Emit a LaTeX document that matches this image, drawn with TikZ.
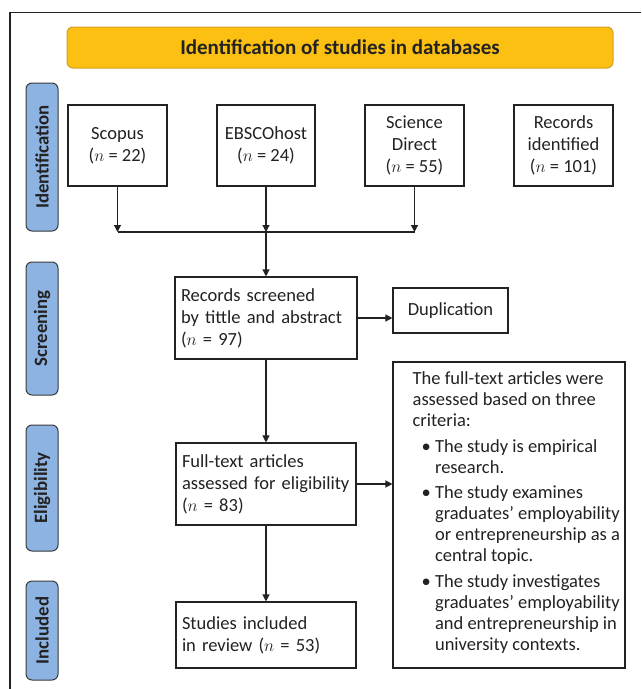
\documentclass[tikz,border=0pt]{standalone}
\usepackage{fontspec}
\setmainfont{Carlito}
\usetikzlibrary{arrows.meta,calc}

\definecolor{bannerfill}{HTML}{FBC012}
\definecolor{bannerline}{HTML}{D49F22}
\definecolor{phasefill}{HTML}{8DB3E2}
\definecolor{phaseline}{HTML}{3A3A3A}
\definecolor{ink}{HTML}{222222}

\newcommand{\nn}{$n$}

\tikzset{
  box/.style={draw=ink, line width=1.1pt, fill=white, inner sep=0pt, text=ink,
    font=\fontsize{18.5}{22}\selectfont},
  cbox/.style={box, align=center},
  lbox/.style={box, align=left, inner xsep=6pt},
  phase/.style={draw=phaseline, fill=phasefill, line width=1pt, rounded corners=6pt,
    rotate=90, inner sep=0pt, text=ink, font=\bfseries\fontsize{18.8}{22}\selectfont},
  banner/.style={draw=bannerline, fill=bannerfill, line width=1pt, rounded corners=6pt,
    inner sep=0pt, text=ink, font=\bfseries\fontsize{21}{24}\selectfont},
  flow/.style={draw=ink, line width=1.2pt, -{Triangle[length=7pt,width=7pt]}},
  link/.style={draw=ink, line width=1.2pt},
}

\begin{document}
\begin{tikzpicture}[x=1pt, y=-1pt]
\useasboundingbox (0,0) rectangle (641,689);

% open frame
\coordinate (fbl) at (10,689);
\coordinate (ftl) at (10,12.5);
\coordinate (ftr) at (641,12.5);
\draw[ink, line width=1.1pt] (fbl) -- (ftl) -- (ftr);

% heading banner
\node[banner, minimum width=546pt, minimum height=41pt] (head) at (340,47.5)
  {Identification of studies in databases};

% phase labels
\node[phase, minimum width=148pt, minimum height=32pt] (pid) at (42,157) {Identification};
\node[phase, minimum width=133pt, minimum height=32pt] (psc) at (42,328.5) {Screening};
\node[phase, minimum width=126pt, minimum height=32pt] (pel) at (42,488) {Eligibility};
\node[phase, minimum width=99pt, minimum height=32pt] (pin) at (42,630.5) {Included};

% identification sources
\node[cbox, minimum width=99pt, minimum height=81pt] (scopus) at (117.5,145.5)
  {Scopus\\(\nn{} = 22)};
\node[cbox, minimum width=98pt, minimum height=81pt] (ebsco) at (266,145.5)
  {EBSCOhost\\(\nn{} = 24)};
\node[cbox, minimum width=99pt, minimum height=81pt] (sd) at (414.5,145.5)
  {Science\\Direct\\(\nn{} = 55)};
\node[cbox, minimum width=99pt, minimum height=81pt] (recid) at (563.5,145.5)
  {Records\\identified\\(\nn{} = 101)};

% screening
\node[lbox, text width=170pt, minimum height=82pt] (screen) at (266,318)
  {Records screened\\by tittle and abstract\\(\nn{} = 97)};
\node[cbox, minimum width=115pt, minimum height=45pt] (dup) at (450.5,310.5)
  {Duplication};

% eligibility
\node[lbox, text width=168pt, minimum height=82pt] (full) at (266,484)
  {Full-text articles\\assessed for eligibility\\(\nn{} = 83)};
\node[box, minimum width=232pt, minimum height=306pt] (crit) at (509,515) {};
\node[anchor=north west, inner sep=0pt, align=left, text=ink,
      font=\fontsize{18.5}{21}\selectfont] (crittext)
  at ($(crit.north west)+(20,10)$)
  {The full-text articles were\\
   assessed based on three\\
   criteria:\\[4.5pt]
   \hspace*{9pt}\textbullet\ The study is empirical\\
   \hspace*{9pt}\phantom{\textbullet\ }research.\\[4.5pt]
   \hspace*{9pt}\textbullet\ The study examines\\
   \hspace*{9pt}\phantom{\textbullet\ }graduates’ employability\\
   \hspace*{9pt}\phantom{\textbullet\ }or entrepreneurship as a\\
   \hspace*{9pt}\phantom{\textbullet\ }central topic.\\[4.5pt]
   \hspace*{9pt}\textbullet\ The study investigates\\
   \hspace*{9pt}\phantom{\textbullet\ }graduates' employability\\
   \hspace*{9pt}\phantom{\textbullet\ }and entrepreneurship in\\
   \hspace*{9pt}\phantom{\textbullet\ }university contexts.};

% included
\node[lbox, text width=168pt, minimum height=66pt] (incl) at (266,635)
  {Studies included\\in review (\nn{} = 53)};

% merging the sources
\coordinate (mrow) at (0,232);
\coordinate (m1) at (scopus.south |- mrow);
\coordinate (m2) at (ebsco.south |- mrow);
\coordinate (m3) at (sd.south |- mrow);
\draw[link] (m1) -- (m3);
\draw[flow] (scopus.south) -- (m1);
\draw[flow] (ebsco.south) -- (m2);
\draw[flow] (sd.south) -- (m3);
\draw[flow] (m2) -- (screen.north);

% flow through the phases
\draw[flow] (screen.east) -- (dup.west |- screen.east);
\draw[flow] (screen.south) -- (full.north);
\draw[flow] (full.east) -- (crit.west |- full.east);
\draw[flow] (full.south) -- (incl.north);
\end{tikzpicture}
\end{document}
